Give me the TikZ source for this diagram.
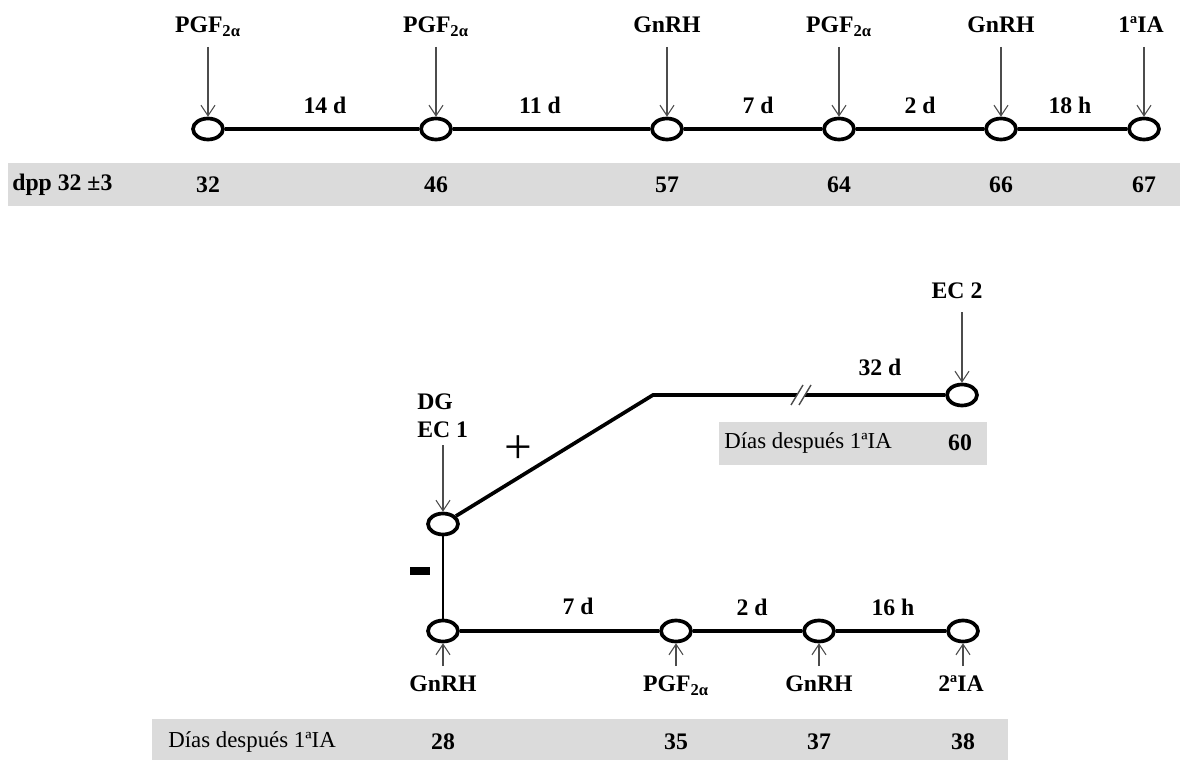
\documentclass[tikz,border=0pt]{standalone}
\usepackage{fontspec}
\setmainfont{Liberation Serif}
\usetikzlibrary{arrows.meta,shapes.geometric}

\begin{document}
\begin{tikzpicture}[x=0.02cm,y=-0.02cm]
	\tikzstyle{every node}=[inner sep=0pt]
	\tikzstyle{stage}=[ellipse, draw, line width=2.1pt, fill=white, minimum width=0.6cm, minimum height=0.42cm]
	\tikzstyle{lab}=[font=\fontsize{13.5}{16}\selectfont\bfseries]
	\tikzstyle{plain}=[font=\fontsize{13}{16}\selectfont]
	\tikzstyle{dose}=[draw=black!70, line width=0.6pt, -{Straight Barb[length=6pt,width=8pt]}]
	\tikzstyle{axis}=[line width=2.1pt]
	\tikzstyle{band}=[fill=black!14]
	\useasboundingbox (0,0) rectangle (1189,760);
	% primera IA
	\draw (208,129) node (v1) [stage] {};
	\draw (436,129) node (v2) [stage] {};
	\draw (667,129) node (v3) [stage] {};
	\draw (839,129) node (v4) [stage] {};
	\draw (1001,129) node (v5) [stage] {};
	\draw (1144,129) node (v6) [stage] {};
	\draw (208,27) node (l1) [lab] {PGF\textsubscript{2α}};
	\draw (436,27) node (l2) [lab] {PGF\textsubscript{2α}};
	\draw (667,25) node (l3) [lab] {GnRH};
	\draw (839,27) node (l4) [lab] {PGF\textsubscript{2α}};
	\draw (1001,25) node (l5) [lab] {GnRH};
	\draw (1141,25) node (l6) [lab] {1ªIA};
	\coordinate (t1) at (208,47);
	\coordinate (t2) at (436,47);
	\coordinate (t3) at (667,47);
	\coordinate (t4) at (839,47);
	\coordinate (t5) at (1001,47);
	\coordinate (t6) at (1144,47);
	\draw[dose] (t1) -- (v1);
	\draw[dose] (t2) -- (v2);
	\draw[dose] (t3) -- (v3);
	\draw[dose] (t4) -- (v4);
	\draw[dose] (t5) -- (v5);
	\draw[dose] (t6) -- (v6);
	\draw[axis] (v1) -- (v2) -- (v3) -- (v4) -- (v5) -- (v6);
	\draw (325,105) node (i1) [lab] {14 d};
	\draw (540,105) node (i2) [lab] {11 d};
	\draw (758,105) node (i3) [lab] {7 d};
	\draw (920,105) node (i4) [lab] {2 d};
	\draw (1070,105) node (i5) [lab] {18 h};
	\fill[band] (8,163) rectangle (1180,206);
	\draw (12,185) node (b0) [lab, anchor=west] {dpp 32 ±3};
	\draw (208,185) node (b1) [lab] {32};
	\draw (436,185) node (b2) [lab] {46};
	\draw (667,185) node (b3) [lab] {57};
	\draw (839,185) node (b4) [lab] {64};
	\draw (1001,185) node (b5) [lab] {66};
	\draw (1144,185) node (b6) [lab] {67};
	% diagnostico
	\draw (443,524) node (d1) [stage] {};
	\draw (962,395) node (e2) [stage] {};
	\coordinate (kn) at (653,395);
	\coordinate (brk) at (801,395);
	\draw[axis] (d1) -- (kn) -- (e2);
	\fill[white] (brk) +(-4,-3) rectangle +(4,3);
	\draw[black!70, line width=0.8pt] (brk) +(-10,10) -- +(2,-10) +(-2,10) -- +(10,-10);
	\draw (417,416) node (dg) [lab, anchor=west, align=left] {DG\\EC 1};
	\coordinate (td) at (443,445);
	\draw[dose] (td) -- (d1);
	\draw (957,291) node (ec2) [lab] {EC 2};
	\coordinate (te) at (962,312);
	\draw[dose] (te) -- (e2);
	\draw (880,367) node (i6) [lab] {32 d};
	\draw (518,450) node (plus) [font=\fontsize{28}{28}\selectfont] {+};
	\draw (420,571) node (minus) [fill=black, minimum width=0.4cm, minimum height=0.16cm] {};
	\fill[band] (719,422) rectangle (987,465);
	\draw (724,443) node (c0) [plain, anchor=west] {Días después 1ªIA};
	\draw (960,443) node (c1) [lab] {60};
	% segunda IA
	\draw (443,631) node (w1) [stage] {};
	\draw (676,631) node (w2) [stage] {};
	\draw (819,631) node (w3) [stage] {};
	\draw (963,631) node (w4) [stage] {};
	\draw[line width=1.5pt] (d1) -- (w1);
	\draw[axis] (w1) -- (w2) -- (w3) -- (w4);
	\draw (443,684) node (m1) [lab] {GnRH};
	\draw (676,686) node (m2) [lab] {PGF\textsubscript{2α}};
	\draw (819,684) node (m3) [lab] {GnRH};
	\draw (961,684) node (m4) [lab] {2ªIA};
	\coordinate (s1) at (443,666);
	\coordinate (s2) at (676,666);
	\coordinate (s3) at (819,666);
	\coordinate (s4) at (963,666);
	\draw[dose] (s1) -- (w1);
	\draw[dose] (s2) -- (w2);
	\draw[dose] (s3) -- (w3);
	\draw[dose] (s4) -- (w4);
	\draw (578,606) node (j1) [lab] {7 d};
	\draw (752,607) node (j2) [lab] {2 d};
	\draw (893,607) node (j3) [lab] {16 h};
	\fill[band] (152,719) rectangle (1008,760);
	\draw (168,742) node (f0) [plain, anchor=west] {Días después 1ªIA};
	\draw (443,742) node (f1) [lab] {28};
	\draw (676,742) node (f2) [lab] {35};
	\draw (819,742) node (f3) [lab] {37};
	\draw (963,742) node (f4) [lab] {38};
\end{tikzpicture}
\end{document}
